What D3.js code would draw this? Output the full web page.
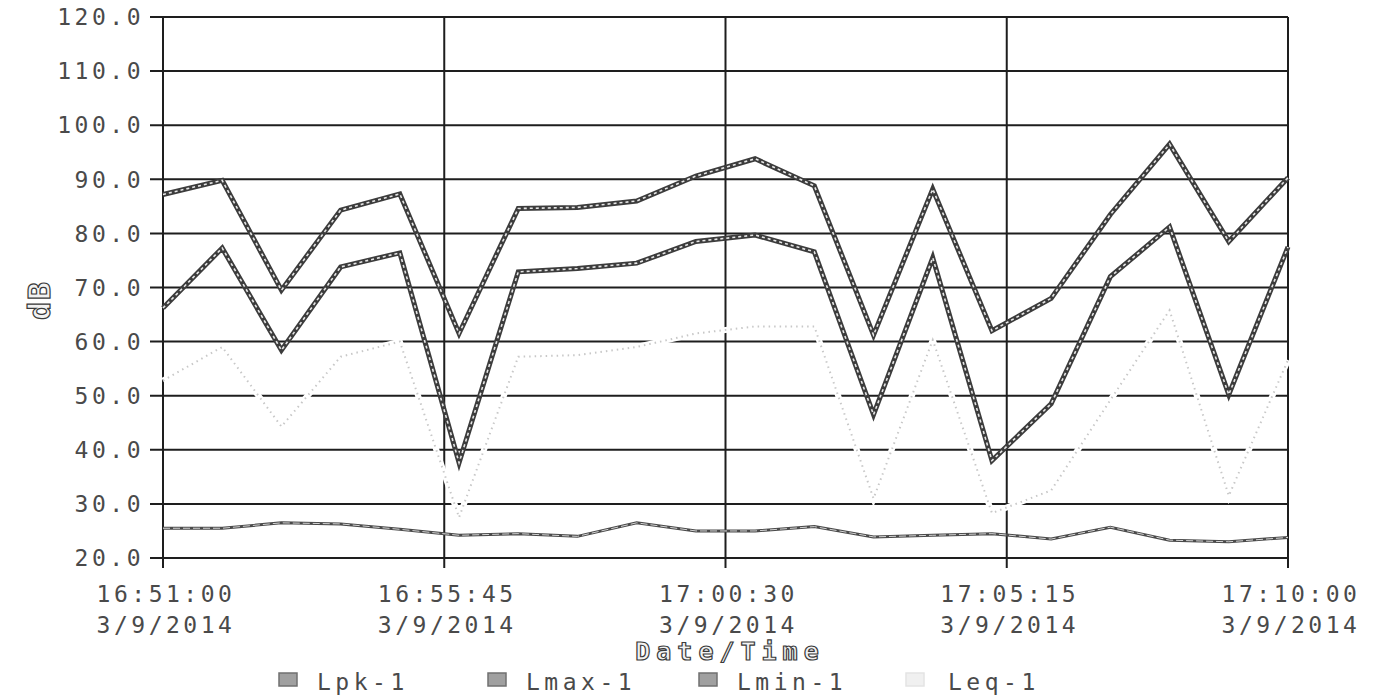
<!DOCTYPE html>
<html>
<head>
<meta charset="utf-8">
<script src="https://cdn.jsdelivr.net/npm/d3@7"></script>
<style>
  html, body { margin: 0; padding: 0; background: #fff; }
  svg { display: block; }
  .lbl { font-family: "DejaVu Sans Mono", monospace; font-size: 23px; fill: #4a4a4a; letter-spacing: 3.5px; }
  .leg { font-family: "DejaVu Sans Mono", monospace; font-size: 23px; fill: #4a4a4a; letter-spacing: 4.5px; }
  .ttl { font-family: "DejaVu Sans Mono", monospace; font-weight: bold; fill: #f2f2f2; stroke: #3a3a3a; stroke-width: 1.2px; }
</style>
</head>
<body>
<svg id="chart" width="1379" height="700"></svg>
<script>
// Sound level log, one reading per minute, 3/9/2014 16:51 - 17:10
const times = ["16:51","16:52","16:53","16:54","16:55","16:56","16:57","16:58","16:59","17:00",
               "17:01","17:02","17:03","17:04","17:05","17:06","17:07","17:08","17:09","17:10"];
const lpk  = [87.2, 89.8, 69.5, 84.3, 87.3, 61.5, 84.6, 84.8, 86.0, 90.6,
              93.8, 88.8, 61.2, 88.2, 62.0, 68.0, 83.5, 96.5, 78.5, 90.3];
const lmax = [66.2, 77.3, 58.4, 73.8, 76.4, 37.6, 72.9, 73.5, 74.5, 78.5,
              79.7, 76.6, 46.5, 75.5, 38.0, 48.5, 72.0, 81.2, 50.2, 77.5];
const lmin = [25.5, 25.5, 26.5, 26.3, 25.3, 24.2, 24.5, 24.0, 26.5, 25.0,
              25.0, 25.8, 23.9, 24.2, 24.5, 23.5, 25.7, 23.3, 23.0, 23.8];
const leq  = [52.8, 59.0, 44.3, 57.2, 60.0, 27.5, 57.2, 57.5, 59.0, 61.5,
              62.8, 62.8, 31.0, 60.3, 28.3, 32.5, 49.2, 65.8, 31.5, 56.6];
const seriesNames = ["Lpk-1", "Lmax-1", "Lmin-1", "Leq-1"];
const yTicks = [20, 30, 40, 50, 60, 70, 80, 90, 100, 110, 120];
const xTickLabels = ["16:51:00", "16:55:45", "17:00:30", "17:05:15", "17:10:00"];

const parseT = d3.timeParse("%m/%d/%Y %H:%M:%S");
const dates = times.map(t => parseT("03/09/2014 " + t + ":00"));
const xTicks = xTickLabels.map(t => parseT("03/09/2014 " + t));

const svg = d3.select("#chart");
const plotL = 163, plotR = 1288, plotT = 17, plotB = 558;

const x = d3.scaleTime().domain([xTicks[0], xTicks[xTicks.length - 1]]).range([plotL, plotR]);
const y = d3.scaleLinear().domain([20, 120]).range([plotB, plotT]);

svg.append("rect").attr("width", 1379).attr("height", 700).attr("fill", "#fff");

// grid
const grid = svg.append("g").attr("stroke", "#1e1e1e").attr("stroke-width", 2);
grid.selectAll("line.h").data(yTicks).join("line")
  .attr("class", "h")
  .attr("x1", plotL - 13).attr("x2", plotR)
  .attr("y1", d => y(d)).attr("y2", d => y(d));
grid.selectAll("line.v").data(xTicks).join("line")
  .attr("class", "v")
  .attr("x1", d => x(d)).attr("x2", d => x(d))
  .attr("y1", plotT).attr("y2", plotB + 10);

// y labels
svg.append("g").selectAll("text").data(yTicks).join("text")
  .attr("class", "lbl")
  .attr("x", plotL - 19).attr("y", d => y(d))
  .attr("dy", "0.36em")
  .attr("text-anchor", "end")
  .text(d => d3.format(".1f")(d));

// x labels (time + date)
const fmtTime = d3.timeFormat("%H:%M:%S");
const fmtDate = d3.timeFormat("%-m/%-d/%Y");
const xl = svg.append("g").selectAll("g").data(xTicks).join("g")
  .attr("transform", d => `translate(${x(d) + 3},0)`);
xl.append("text").attr("class", "lbl").attr("text-anchor", "middle")
  .attr("y", 602).text(d => fmtTime(d));
xl.append("text").attr("class", "lbl").attr("text-anchor", "middle")
  .attr("y", 633).text(d => fmtDate(d));

// axis titles
svg.append("text").attr("class", "ttl").attr("text-anchor", "middle")
  .attr("x", 730).attr("y", 660)
  .style("font-size", "25px").style("letter-spacing", "6px")
  .text("Date/Time");
svg.append("text").attr("class", "ttl").attr("text-anchor", "middle")
  .attr("transform", "translate(50,300) rotate(-90)")
  .style("font-size", "30px").style("letter-spacing", "2px")
  .text("dB");

const line = d3.line().x((d, i) => x(dates[i])).y(d => y(d));

// Leq: pale dotted trace drawn over the grid
svg.append("path").datum(leq).attr("d", line)
  .attr("fill", "none").attr("stroke", "#fff").attr("stroke-width", 6);
svg.append("path").datum(leq).attr("d", line)
  .attr("fill", "none").attr("stroke", "#c8c8c8").attr("stroke-width", 2)
  .attr("stroke-dasharray", "1.5,4");

// Lmin
svg.append("path").datum(lmin).attr("d", line)
  .attr("fill", "none").attr("stroke", "#4a4a4a").attr("stroke-width", 3);
svg.append("path").datum(lmin).attr("d", line)
  .attr("fill", "none").attr("stroke", "#d4d4d4").attr("stroke-width", 1)
  .attr("stroke-dasharray", "7,3");

// Lmax and Lpk: boxy double traces
[lmax, lpk].forEach(s => {
  svg.append("path").datum(s).attr("d", line)
    .attr("fill", "none").attr("stroke", "#3c3c3c").attr("stroke-width", 5)
    .attr("stroke-linejoin", "miter");
  svg.append("path").datum(s).attr("d", line)
    .attr("fill", "none").attr("stroke", "#e6e6e6").attr("stroke-width", 1.6)
    .attr("stroke-dasharray", "3,3");
});

// legend
const legX = [279, 488, 699, 906];
const legFill = ["#a0a0a0", "#a0a0a0", "#a0a0a0", "#f0f0f0"];
const legStroke = ["#707070", "#707070", "#707070", "#e4e4e4"];
const leg = svg.append("g").selectAll("g").data(seriesNames).join("g")
  .attr("transform", (d, i) => `translate(${legX[i]},0)`);
leg.append("rect").attr("x", 0).attr("y", 673).attr("width", 18).attr("height", 13)
  .attr("fill", (d, i) => legFill[i]).attr("stroke", (d, i) => legStroke[i]).attr("stroke-width", 1.5);
leg.append("text").attr("class", "leg").attr("x", (d, i) => i === 3 ? 42 : 38).attr("y", 690).text(d => d);
</script>
</body>
</html>
